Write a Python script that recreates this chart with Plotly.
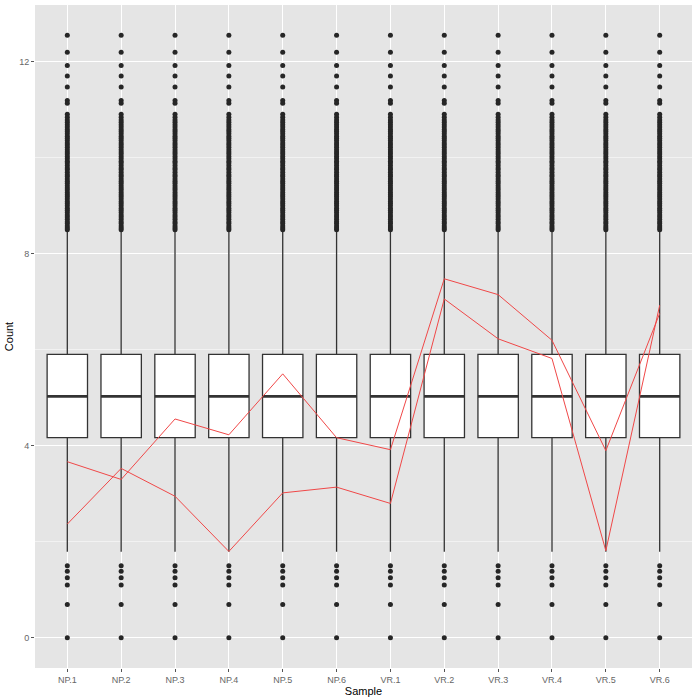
import plotly.graph_objects as go

samples = ["NP.1", "NP.2", "NP.3", "NP.4", "NP.5", "NP.6",
           "VR.1", "VR.2", "VR.3", "VR.4", "VR.5", "VR.6"]

# box statistics (identical for every sample)
q1_val = 4.17
median_val = 5.03
q3_val = 5.905
lower_whisker = 1.795
upper_whisker = 8.49

low_outliers = [0.0, 0.693, 1.099, 1.253, 1.386, 1.504]
high_outliers = [12.556, 12.201, 11.923, 11.707, 11.477, 11.192, 11.137,
                 10.907, 10.845, 10.789, 10.74, 10.69, 10.64, 10.59, 10.55,
                 10.50, 10.45, 10.41, 10.36, 10.31, 10.27, 10.22, 10.17,
                 10.12, 10.08, 10.03, 9.98, 9.93, 9.89, 9.84, 9.79, 9.75,
                 9.70, 9.65, 9.61, 9.56, 9.51, 9.47, 9.42, 9.37, 9.33, 9.28,
                 9.23, 9.19, 9.14, 9.09, 9.05, 9.00, 8.95, 8.91, 8.86, 8.81,
                 8.77, 8.72, 8.67, 8.63, 8.58, 8.54, 8.50]

line_a = [3.67, 3.30, 4.56, 4.23, 5.50, 4.17, 3.92, 7.48, 7.15, 6.20, 3.90, 6.76]
line_b = [2.37, 3.53, 2.95, 1.80, 3.02, 3.14, 2.80, 7.06, 6.23, 5.82, 1.815, 6.93]

pos = list(range(1, len(samples) + 1))
n = len(samples)
box_w = 0.75

fig = go.Figure()

fig.add_trace(go.Box(
    x=pos, q1=[q1_val] * n, median=[median_val] * n, q3=[q3_val] * n,
    lowerfence=[lower_whisker] * n, upperfence=[upper_whisker] * n,
    width=box_w, whiskerwidth=0, fillcolor="white",
    line=dict(color="#333333", width=1.3), boxpoints=False,
    showlegend=False, hoverinfo="skip"))

# thicker median lines
mx, my = [], []
for p in pos:
    mx += [p - box_w / 2, p + box_w / 2, None]
    my += [median_val, median_val, None]
fig.add_trace(go.Scatter(x=mx, y=my, mode="lines",
                         line=dict(color="#333333", width=2.6),
                         showlegend=False, hoverinfo="skip"))

# outliers
ox, oy = [], []
for p in pos:
    for v in low_outliers + high_outliers:
        ox.append(p)
        oy.append(v)
fig.add_trace(go.Scatter(x=ox, y=oy, mode="markers",
                         marker=dict(color="#262626", size=5),
                         showlegend=False, hoverinfo="skip"))

for ln in (line_a, line_b):
    fig.add_trace(go.Scatter(x=pos, y=ln, mode="lines",
                             line=dict(color="#F04848", width=1),
                             showlegend=False))

fig.update_layout(
    width=700, height=700,
    margin=dict(l=35, r=8, t=5, b=32),
    paper_bgcolor="white", plot_bgcolor="#E5E5E5",
    font=dict(family="Liberation Sans, Arial, sans-serif", size=9, color="#666666"),
    xaxis=dict(
        range=[0.4, 12.6], tickvals=pos, ticktext=samples,
        showgrid=True, gridcolor="white", gridwidth=1.1, zeroline=False,
        ticks="outside", ticklen=3, tickcolor="#555555", tickwidth=1,
        tickfont=dict(size=9, color="#666666"),
        title=dict(text="Sample", font=dict(size=11, color="black"), standoff=2),
    ),
    yaxis=dict(
        range=[-0.628, 13.184], tickvals=[0, 4, 8, 12],
        showgrid=True, gridcolor="white", gridwidth=1.1, zeroline=False,
        ticks="outside", ticklen=3, tickcolor="#555555", tickwidth=1,
        tickfont=dict(size=9, color="#666666"),
        minor=dict(tickvals=[2, 6, 10], showgrid=True, gridcolor="#F2F2F2",
                   gridwidth=0.6, ticks=""),
        title=dict(text="Count", font=dict(size=11, color="black"), standoff=3),
    ),
)

fig.write_html("out.html")
